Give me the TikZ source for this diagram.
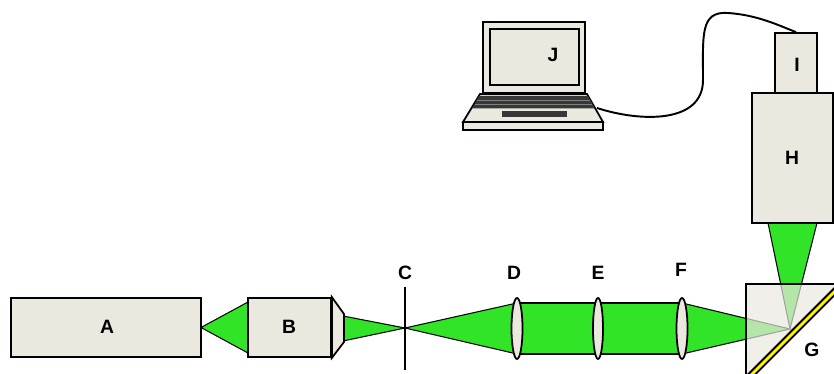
\documentclass[tikz,border=0pt]{standalone}
\usepackage{fontspec}
\setmainfont{Liberation Sans}
\usetikzlibrary{shapes.geometric}
\definecolor{boxfill}{RGB}{234,232,223}
\definecolor{laser}{RGB}{50,228,40}
\definecolor{keys}{RGB}{55,55,55}
\tikzset{
	unit/.style={draw, fill=boxfill, line width=1pt, inner sep=0pt},
	lens/.style={draw, fill=boxfill, line width=1pt, ellipse, inner sep=0pt,
		minimum width=0.22cm, minimum height=1.22cm},
	beam/.style={fill=laser, draw=black, line width=0.6pt},
	tag/.style={font=\bfseries\fontsize{11}{13}\selectfont}
}
\begin{document}
\begin{tikzpicture}[x=0.02cm, y=-0.02cm]
		\useasboundingbox (0,0) rectangle (834,374);
		\clip (0,0) rectangle (834,374);
		% beam heights between the lenses
		\def\btop{303}
		\def\bbot{354}
		\coordinate (focus) at (405,328);
		\coordinate (spot) at (790,329);
		
		% green beams first, the optics go on top
		\fill[beam] (201,327.5) -- (248,302) -- (248,353) -- cycle;
		\fill[beam] (343,316) -- (focus) -- (343,341) -- cycle;
		\fill[beam] (focus) -- (517,\btop) -- (517,\bbot) -- cycle;
		\fill[beam] (517,\btop) rectangle (682,\bbot);
		\fill[beam] (682,\btop) -- (spot) -- (682,\bbot) -- cycle;
		\fill[beam] (spot) -- (768,223) -- (817,223) -- cycle;
		
		% Laser A and beam expander B
		\node[unit, minimum width=3.8cm, minimum height=1.18cm] (A) at (106,327.5) {};
		\node[tag] at (107,327) {A};
		\node[unit, minimum width=1.66cm, minimum height=1.18cm] (B) at (289.5,327.5) {};
		\filldraw[fill=boxfill, line width=1pt] (B.north east) -- (344,314) -- (344,342) -- (B.south east) -- cycle;
		\node[tag] at (289,327) {B};
		
		% Pinhole C
		\draw[line width=1pt] (405,287) -- (405,370);
		\node[tag] (C) at (405,273) {C};
		
		% Lenses
		\node[lens] (D) at (517,328.5) {};
		\node[lens, minimum width=0.2cm] (E) at (598,328.5) {};
		\node[lens] (F) at (682,328.5) {};
		\node[tag] at (514,273) {D};
		\node[tag] at (598,273) {E};
		\node[tag] at (681,270) {F};
		
		% Prism G with mirror
		\fill[boxfill, opacity=0.7] (746,284) -- (842,284) -- (746,380) -- cycle;
		\draw[line width=0.8pt] (746,380) -- (746,284) -- (842,284);
		\draw[line width=4pt] (746,380) -- (842,284);
		\draw[yellow, line width=1.6pt] (746,380) -- (842,284);
		\node[tag] at (812,350) {G};
		
		% Microscope H and camera I
		\node[unit, minimum width=1.62cm, minimum height=2.6cm] (H) at (792.5,158) {};
		\node[tag] at (792,158) {H};
		\node[unit, minimum width=0.84cm, minimum height=1.2cm] (I) at (796,63) {};
		\node[tag] at (797,65) {I};
		
		% Laptop J
		\node[unit, minimum width=2.04cm, minimum height=1.42cm] (J) at (534,57.5) {};
		\draw[line width=1.2pt] (490,29) rectangle (579,85);
		\node[tag] at (553,55) {J};
		\filldraw[fill=boxfill, line width=1pt] (480,94) -- (587,94) -- (603,122) -- (463,122) -- cycle;
		\fill[keys] (479,96) -- (588,96) -- (595,108.5) -- (472,108.5) -- cycle;
		\draw[gray, line width=0.35pt] (477,100.3) -- (590,100.3);
		\draw[gray, line width=0.35pt] (475,104.3) -- (592,104.3);
		\fill[keys] (502,111.5) rectangle (567,117);
		\filldraw[fill=boxfill, line width=1pt] (463,122) rectangle (603,130);
		\coordinate (plug) at (597,108);
		
		% cable from laptop to camera
		\draw[line width=1.1pt] (plug) .. controls (640,122) and (703,124) .. (703,80)
			.. controls (703,35) and (700,11) .. (728,13)
			.. controls (758,15) and (780,26) .. (I.north);
	\end{tikzpicture}
\end{document}
